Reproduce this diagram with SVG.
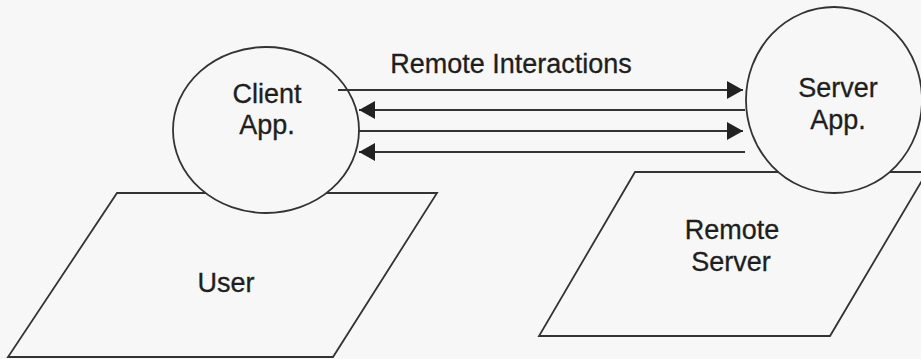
<svg xmlns="http://www.w3.org/2000/svg" width="921" height="359" viewBox="0 0 921 359">
  <style>
    .shape { fill: #f7f7f7; stroke: #333; stroke-width: 1.8; }
    .label { font-family: "Liberation Sans", Arial, sans-serif; font-size: 27px; fill: #1e1e1e; stroke: #1e1e1e; stroke-width: 0.3; text-anchor: middle; }
    .link { stroke: #333; stroke-width: 2; fill: none; }
  </style>
  <defs>
    <marker id="arrow" viewBox="0 0 16 18" refX="16" refY="9" markerWidth="16" markerHeight="18" markerUnits="userSpaceOnUse" orient="auto">
      <path d="M0,0 L16,9 L0,18 Z" fill="#222"/>
    </marker>
  </defs>

  <rect width="921" height="359" fill="#f7f7f7"/>

  <!-- User terminal and the client application running on it -->
  <g id="user">
    <polygon class="shape" points="117,193 437,193 333,357 8,357"/>
    <text class="label" x="226" y="292">User</text>
  </g>
  <g id="client-app">
    <ellipse class="shape" cx="266" cy="130" rx="93" ry="83"/>
    <text class="label" x="267" y="103">Client</text>
    <text class="label" x="267" y="134">App.</text>
  </g>

  <!-- Remote server host and the server application running on it -->
  <g id="remote-server">
    <polygon class="shape" points="635,172 927,172 830,336 539,336"/>
    <text class="label" x="732" y="239">Remote</text>
    <text class="label" x="731" y="271">Server</text>
  </g>
  <g id="server-app">
    <ellipse class="shape" cx="834" cy="100" rx="88" ry="93"/>
    <text class="label" x="838" y="97">Server</text>
    <text class="label" x="838" y="129">App.</text>
  </g>

  <!-- Request / response exchanges between the two applications -->
  <g id="connectors">
    <text class="label" x="511" y="73">Remote Interactions</text>
    <line class="link" x1="338" y1="90" x2="743" y2="90" marker-end="url(#arrow)"/>
    <line class="link" x1="745" y1="110" x2="359" y2="110" marker-end="url(#arrow)"/>
    <line class="link" x1="358" y1="131" x2="743" y2="131" marker-end="url(#arrow)"/>
    <line class="link" x1="745" y1="152" x2="359" y2="152" marker-end="url(#arrow)"/>
  </g>
</svg>
